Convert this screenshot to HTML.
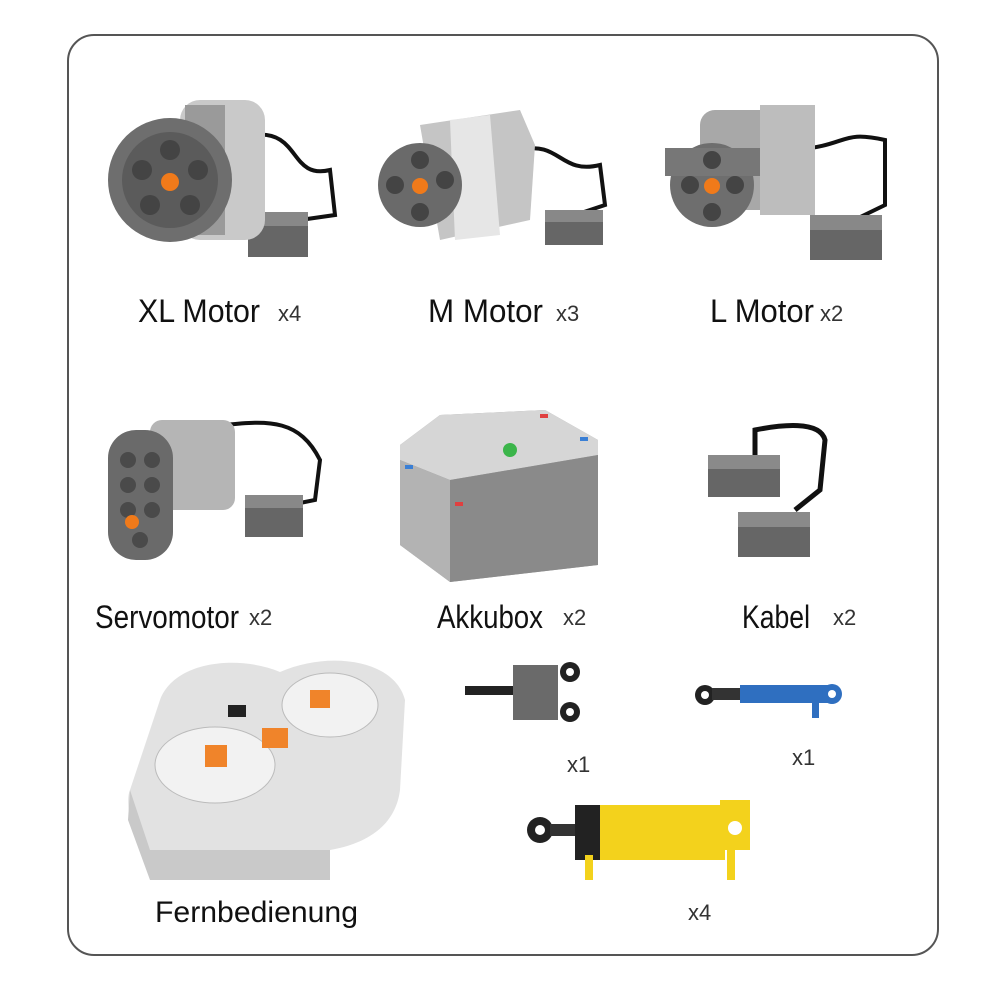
<!DOCTYPE html>
<html><head><meta charset="utf-8"><style>
html,body{margin:0;padding:0;background:#fff}
svg{display:block}
text{font-family:"Liberation Sans Narrow","Liberation Sans",sans-serif;fill:#111}
</style></head><body>
<svg width="1000" height="1000" viewBox="0 0 1000 1000" xmlns="http://www.w3.org/2000/svg">
<rect x="68" y="35" width="870" height="920" rx="26" fill="#fff" stroke="#555" stroke-width="2"/>

<g>
<path d="M255 135 C300 130 290 180 330 170 L335 215 L300 220" fill="none" stroke="#111" stroke-width="4"/>
<rect x="248" y="212" width="60" height="45" fill="#666"/><rect x="248" y="212" width="60" height="14" fill="#888"/>
<rect x="180" y="100" width="85" height="140" rx="20" fill="#c9c9c9"/>
<rect x="185" y="105" width="40" height="130" fill="#9a9a9a"/>
<circle cx="170" cy="180" r="62" fill="#6e6e6e"/>
<circle cx="170" cy="180" r="48" fill="#5b5b5b"/>
<g fill="#444"><circle cx="170" cy="150" r="10"/><circle cx="198" cy="170" r="10"/><circle cx="190" cy="205" r="10"/><circle cx="150" cy="205" r="10"/><circle cx="142" cy="170" r="10"/></g>
<circle cx="170" cy="182" r="9" fill="#f07a1a"/>
</g>
<text x="138" y="322" font-size="32" textLength="122" lengthAdjust="spacingAndGlyphs">XL Motor</text>
<text x="278" y="321" font-size="22" style="fill:#333">x4</text>

<g>
<path d="M520 150 C560 140 560 175 600 165 L605 205 L575 215" fill="none" stroke="#111" stroke-width="4"/>
<rect x="545" y="210" width="58" height="35" fill="#666"/><rect x="545" y="210" width="58" height="12" fill="#888"/>
<path d="M420 125 L520 110 L535 145 L530 220 L440 240 Z" fill="#c5c5c5"/>
<path d="M450 120 L490 115 L500 235 L455 240 Z" fill="#e6e6e6"/>
<circle cx="420" cy="185" r="42" fill="#6a6a6a"/>
<g fill="#444"><circle cx="420" cy="160" r="9"/><circle cx="445" cy="180" r="9"/><circle cx="420" cy="212" r="9"/><circle cx="395" cy="185" r="9"/></g>
<circle cx="420" cy="186" r="8" fill="#f07a1a"/>
</g>
<text x="428" y="322" font-size="32" textLength="115" lengthAdjust="spacingAndGlyphs">M Motor</text>
<text x="556" y="321" font-size="22" style="fill:#333">x3</text>

<g>
<path d="M795 150 C850 145 840 130 885 140 L885 205 L850 222" fill="none" stroke="#111" stroke-width="4"/>
<rect x="810" y="215" width="72" height="45" fill="#666"/><rect x="810" y="215" width="72" height="15" fill="#888"/>
<rect x="700" y="110" width="110" height="100" rx="15" fill="#a8a8a8"/>
<rect x="760" y="105" width="55" height="110" fill="#bdbdbd"/>
<circle cx="712" cy="185" r="42" fill="#6e6e6e"/>
<rect x="665" y="148" width="95" height="28" fill="#777"/>
<g fill="#444"><circle cx="712" cy="160" r="9"/><circle cx="735" cy="185" r="9"/><circle cx="712" cy="212" r="9"/><circle cx="690" cy="185" r="9"/></g>
<circle cx="712" cy="186" r="8" fill="#f07a1a"/>
</g>
<text x="710" y="322" font-size="32" textLength="104" lengthAdjust="spacingAndGlyphs">L Motor</text>
<text x="820" y="321" font-size="22" style="fill:#333">x2</text>

<g>
<path d="M225 425 C270 420 300 420 320 460 L315 500 L290 505" fill="none" stroke="#111" stroke-width="4"/>
<rect x="245" y="495" width="58" height="42" fill="#666"/><rect x="245" y="495" width="58" height="13" fill="#888"/>
<rect x="150" y="420" width="85" height="90" rx="12" fill="#b5b5b5"/>
<rect x="108" y="430" width="65" height="130" rx="28" fill="#6a6a6a"/>
<g fill="#4a4a4a"><circle cx="128" cy="460" r="8"/><circle cx="152" cy="460" r="8"/><circle cx="128" cy="485" r="8"/><circle cx="152" cy="485" r="8"/><circle cx="128" cy="510" r="8"/><circle cx="152" cy="510" r="8"/><circle cx="140" cy="540" r="8"/></g>
<circle cx="132" cy="522" r="7" fill="#f07a1a"/>
</g>
<text x="95" y="628" font-size="32" textLength="144" lengthAdjust="spacingAndGlyphs">Servomotor</text>
<text x="249" y="625" font-size="22" style="fill:#333">x2</text>

<g>
<path d="M440 415 L545 410 L598 440 L598 565 L450 582 L400 545 L400 445 Z" fill="#9e9e9e"/>
<path d="M400 445 L440 415 L545 410 L598 440 L598 455 L450 480 L400 460 Z" fill="#d6d6d6"/>
<path d="M450 480 L598 455 L598 565 L450 582 Z" fill="#8a8a8a"/>
<path d="M400 460 L450 480 L450 582 L400 545 Z" fill="#b3b3b3"/>
<circle cx="510" cy="450" r="7" fill="#3bb54a"/>
<rect x="405" y="465" width="8" height="4" fill="#3a7fd5"/><rect x="455" y="502" width="8" height="4" fill="#e04040"/>
<rect x="540" y="414" width="8" height="4" fill="#e04040"/><rect x="580" y="437" width="8" height="4" fill="#3a7fd5"/>
</g>
<text x="437" y="628" font-size="32" textLength="106" lengthAdjust="spacingAndGlyphs">Akkubox</text>
<text x="563" y="625" font-size="22" style="fill:#333">x2</text>

<g>
<path d="M755 460 L755 430 C780 425 820 420 825 440 L820 490 L795 510" fill="none" stroke="#111" stroke-width="5"/>
<rect x="708" y="455" width="72" height="42" fill="#666"/><rect x="708" y="455" width="72" height="14" fill="#8a8a8a"/>
<rect x="738" y="512" width="72" height="45" fill="#666"/><rect x="738" y="512" width="72" height="15" fill="#8a8a8a"/>
</g>
<text x="742" y="628" font-size="32" textLength="68" lengthAdjust="spacingAndGlyphs">Kabel</text>
<text x="833" y="625" font-size="22" style="fill:#333">x2</text>

<g>
<path d="M160 700 C175 660 240 655 280 672 C330 650 395 660 405 700 L400 790 C395 830 360 845 330 850 L150 850 C130 840 125 800 130 790 Z" fill="#e2e2e2"/>
<path d="M130 790 L150 850 L330 850 L330 880 L150 880 L128 820 Z" fill="#c9c9c9"/>
<ellipse cx="215" cy="765" rx="60" ry="38" fill="#f2f2f2" stroke="#bbb"/>
<ellipse cx="330" cy="705" rx="48" ry="32" fill="#f2f2f2" stroke="#bbb"/>
<rect x="205" y="745" width="22" height="22" fill="#f0842a"/>
<rect x="310" y="690" width="20" height="18" fill="#f0842a"/>
<rect x="262" y="728" width="26" height="20" fill="#f0842a"/>
<rect x="228" y="705" width="18" height="12" fill="#222"/>
</g>
<text x="155" y="922" font-size="30" textLength="203" lengthAdjust="spacingAndGlyphs">Fernbedienung</text>

<g>
<rect x="465" y="686" width="50" height="9" fill="#222"/>
<rect x="513" y="665" width="45" height="55" fill="#6a6a6a"/>
<circle cx="570" cy="672" r="10" fill="#222"/><circle cx="570" cy="672" r="4" fill="#fff"/>
<circle cx="570" cy="712" r="10" fill="#222"/><circle cx="570" cy="712" r="4" fill="#fff"/>
</g>
<text x="567" y="772" font-size="22" style="fill:#333">x1</text>

<g>
<circle cx="705" cy="695" r="10" fill="#222"/><circle cx="705" cy="695" r="4" fill="#fff"/>
<rect x="712" y="688" width="30" height="12" fill="#333"/>
<rect x="740" y="685" width="90" height="18" fill="#2f6fc0"/>
<circle cx="832" cy="694" r="10" fill="#2f6fc0"/><circle cx="832" cy="694" r="4" fill="#fff"/>
<rect x="812" y="700" width="7" height="18" fill="#2f6fc0"/>
</g>
<text x="792" y="765" font-size="22" style="fill:#333">x1</text>

<g>
<circle cx="540" cy="830" r="13" fill="#222"/><circle cx="540" cy="830" r="5" fill="#fff"/>
<rect x="550" y="824" width="30" height="12" fill="#333"/>
<rect x="575" y="805" width="35" height="55" fill="#222"/>
<rect x="600" y="805" width="125" height="55" fill="#f3d21c"/>
<rect x="720" y="800" width="30" height="50" fill="#f3d21c"/>
<circle cx="735" cy="828" r="7" fill="#fff"/>
<rect x="585" y="855" width="8" height="25" fill="#f3d21c"/>
<rect x="727" y="848" width="8" height="32" fill="#f3d21c"/>
</g>
<text x="688" y="920" font-size="22" style="fill:#333">x4</text>
</svg>
</body></html>
